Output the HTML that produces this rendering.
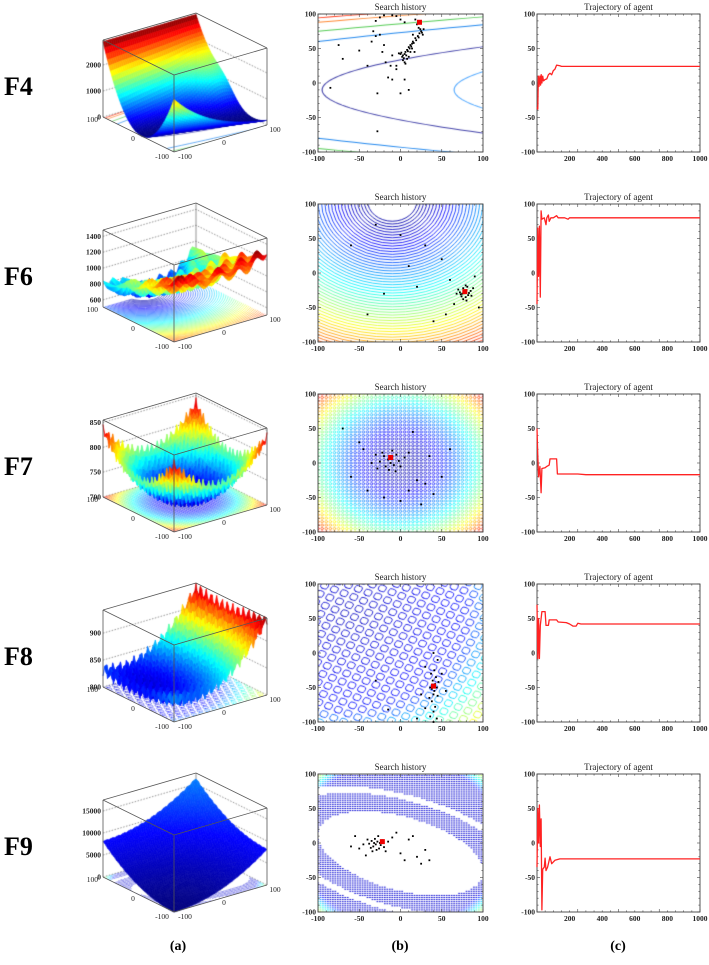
<!DOCTYPE html>
<html><head><meta charset="utf-8">
<style>
html,body{margin:0;padding:0;background:#fff;}
#wrap{position:relative;width:709px;height:965px;overflow:hidden;}
canvas,svg{position:absolute;left:0;top:0;}
text{font-family:"Liberation Serif",serif;}
</style></head>
<body>
<div id="wrap">
<canvas id="cv" width="709" height="965"></canvas>
<svg id="sv" width="709" height="965" xmlns="http://www.w3.org/2000/svg"></svg>
</div>
<script>
// ---------- data ----------
const rowNames = ["F4","F6","F7","F8","F9"];
const contourTicks = [-100,-50,0,50,100];
const trajXTicks = [200,400,600,800,1000];
const trajYTicks = [-100,-50,0,50,100];
const zTicksF4 = [0,1000,2000];
const zTicksF6 = [600,800,1000,1200,1400];
const zTicksF7 = [700,750,800,850];
const zTicksF8 = [800,850,900];
const zTicksF9 = [0,5000,10000,15000];
const zRangeF4 = [0,2960];
const zRangeF6 = [510,1480];
const zRangeF7 = [700,855];
const zRangeF8 = [800,943];
const zRangeF9 = [0,17500];

const trajF4Iter = [0,5,8,12,18,22,26,30,35,40,50,60,70,80,90,100,110,120,140,150,1000];
const trajF4Val  = [-35,-38,10,-5,10,-3,12,0,10,3,5,6,12,14,12,18,20,26,25,24,24];
const trajF6Iter = [0,5,10,15,20,25,30,45,55,60,70,75,85,100,120,130,170,190,200,1000];
const trajF6Val  = [-45,65,-5,68,-35,90,78,80,70,80,84,75,80,80,83,80,80,78,80,80];
const trajF7Iter = [0,5,10,18,25,30,50,60,75,80,120,125,250,300,1000];
const trajF7Val  = [50,10,-20,-5,-43,-8,-7,-5,-3,6,6,-16,-16,-17,-17];
const trajF8Iter = [0,5,10,15,20,30,50,55,70,75,120,130,180,200,220,240,250,270,1000];
const trajF8Val  = [70,-8,50,-8,40,60,60,40,40,48,48,45,44,42,39,39,43,42,42];
const trajF9Iter = [0,5,10,15,20,25,30,35,45,50,55,65,80,90,110,140,1000];
const trajF9Val  = [-35,50,0,55,-5,35,-97,-38,-35,-22,-40,-35,-20,-30,-25,-23,-23];

const scF4X = [20,22,24,25,23,26,21,18,15,14,12,10,8,6,5,3,2,0,4,7,9,11,13,16,19,22,27,1,-2,3,5,8,10,12,14,-20,-25,-30,-35,-33,-22,-18,-10,-5,-50,-75,-85,-28,-15,-10,-12,10,5,0,-5,28,-28,-70,-40,-30,-25,-20,-10,-5,0,5,18,15,17,6];
const scF4Y = [85,80,78,75,72,73,68,65,60,57,55,52,48,45,42,40,38,42,36,40,46,50,53,58,62,66,70,44,43,33,30,35,38,45,50,55,70,68,60,75,45,30,40,25,47,55,-7,-15,8,5,25,-10,5,-15,20,78,-70,35,25,90,95,98,98,97,92,88,92,70,45,28];
const scF6X = [78,80,75,82,76,72,85,79,74,81,70,77,83,73,86,79,68,88,76,80,60,50,30,10,-20,-40,-60,95,90,65,40,55,0,-30,20];
const scF6Y = [-28,-25,-30,-32,-22,-28,-26,-35,-34,-20,-24,-26,-29,-31,-33,-18,-30,-22,-38,-40,-10,20,40,10,-30,-60,40,-50,-5,-45,-70,-60,55,70,-20];
const scF7X = [-15,-10,-20,-12,-8,-18,-25,-5,-22,-14,-2,-28,-10,0,-30,-6,5,-35,10,20,30,-40,40,15,-50,60,-60,0,25,-20,50,-70,35,-45,10];
const scF7Y = [5,8,10,0,-3,-5,2,12,15,-10,3,-8,18,-5,12,-12,8,0,15,-25,-30,-40,-45,45,30,20,-20,-55,-60,-50,-20,50,10,20,-40];
const scF8X = [40,42,38,41,36,44,40,39,43,37,41,45,38,42,40,36,44,40,35,46,30,50,25,45,55,20,-15,40,-30,30];
const scF8Y = [-48,-45,-52,-55,-50,-50,-60,-40,-35,-30,-25,-62,-70,-78,-85,-92,-95,-100,-65,-42,-20,-30,-60,-10,-55,-95,-82,0,-40,-80];
const scF9X = [-30,-28,-33,-26,-35,-31,-24,-38,-29,-22,-34,-27,-40,-20,-32,-36,-25,-45,-15,-18,-50,-10,0,10,20,25,-60,-42,5,15,-5,-55,30,35];
const scF9Y = [-2,2,-5,-8,3,6,-3,-1,-10,4,-12,10,5,-6,0,-7,0,-2,2,-12,-8,8,-15,5,-20,-30,-5,-18,-25,10,15,10,-10,-25];
const bestX = [23,78,-12,40,-22];
const bestY = [88,-27,8,-48,2];

// ---------- helpers ----------
const cv = document.getElementById('cv');
const ctx = cv.getContext('2d');
const sv = document.getElementById('sv');
const NS = "http://www.w3.org/2000/svg";
function mk(tag, attrs, parent){
  const e = document.createElementNS(NS, tag);
  for (const k in attrs) e.setAttribute(k, attrs[k]);
  (parent||sv).appendChild(e);
  return e;
}
function jet(t){
  t = Math.max(0, Math.min(1, t));
  const c = v => Math.round(255*Math.max(0, Math.min(1, v)));
  return `rgb(${c(1.5-Math.abs(4*t-3))},${c(1.5-Math.abs(4*t-2))},${c(1.5-Math.abs(4*t-1))})`;
}
const ROW = 190;
const MID = {x0:318, x1:483, y0:14, y1:152};
const RIGHT = {x0:537, x1:700, y0:14, y1:152};
function midX(v){return MID.x0 + (v+100)/200*(MID.x1-MID.x0);}
function midY(v,oy){return oy + MID.y1 - (v+100)/200*(MID.y1-MID.y0);}
function trX(v){return RIGHT.x0 + v/1000*(RIGHT.x1-RIGHT.x0);}
function trY(v,oy){return oy + RIGHT.y1 - (v+100)/200*(RIGHT.y1-RIGHT.y0);}

// ---------- contour patterns (drawn in data coordinates) ----------
function drawPattern(k){
  ctx.lineCap = 'round';
  if (k===0){
    const lv=[-3200,0,5000,7300,9700,11000];
    const cl=['#55aaff','#4444aa','#2288ee','#55cc55','#ff8833','#ff3311'];
    ctx.lineWidth=1.4;
    for(let i=0;i<lv.length;i++){
      ctx.strokeStyle=cl[i]; ctx.beginPath();
      for(let y=-110;y<=110;y+=2){const x=((y+10)*(y+10)-lv[i])/20-95; y===-110?ctx.moveTo(x,y):ctx.lineTo(x,y);}
      ctx.stroke();
    }
  } else if (k===1){
    ctx.lineWidth=1.15;
    for(let r=30;r<=240;r+=4){
      ctx.strokeStyle=jet(0.04+Math.pow((r-30)/210,1.3)*0.85);
      ctx.beginPath(); ctx.arc(-10,105,r,0,Math.PI*2); ctx.stroke();
    }
  } else if (k===2){
    ctx.lineWidth=0.9;
    for(let x=-100;x<=100;x+=5)for(let y=-100;y<=100;y+=5){
      const d=Math.sqrt(x*x+y*y)/141;
      ctx.strokeStyle=jet(0.04+d*d*0.85);
      ctx.beginPath(); ctx.arc(x,y,1.6,0,Math.PI*2); ctx.stroke();
    }
  } else if (k===3){
    ctx.lineWidth=1.0;
    const a=-25*Math.PI/180, ca=Math.cos(a), sa=Math.sin(a);
    for(let i=-14;i<=14;i++)for(let j=-14;j<=14;j++){
      const u=i*13, v=j*13;
      const x=40+u*ca-v*sa, y=-50+u*sa+v*ca;
      if(x<-110||x>110||y<-110||y>110) continue;
      const d=Math.sqrt((x+60)*(x+60)+(y-60)*(y-60))/260;
      ctx.strokeStyle=jet(0.06+Math.max(0,d-0.55)*1.5+d*0.15);
      ctx.save(); ctx.translate(x,y); ctx.rotate(a);
      ctx.beginPath(); if(ctx.roundRect) ctx.roundRect(-4.5,-4.5,9,9,3); else ctx.rect(-4.5,-4.5,9,9); ctx.stroke();
      ctx.restore();
    }
  } else if (k===4){
    const a=-20*Math.PI/180, ca=Math.cos(a), sa=Math.sin(a);
    for(let x=-100;x<=100;x+=3.0)for(let y=-100;y<=100;y+=3.0){
      const dx=x-0, dy=y+15;
      const u=dx*ca+dy*sa, v=-dx*sa+dy*ca;
      const d=Math.sqrt((u/105)*(u/105)+(v/52)*(v/52));
      if(d<1) continue;
      if(d>1.45&&d<1.6) continue;
      const rr=Math.sqrt(x*x+y*y)/141;
      ctx.fillStyle=jet(rr>0.85?0.08+(rr-0.85)*3.5:0.08);
      ctx.fillRect(x-1.0,y-0.7,2.0,1.4);
    }
  }
}

// ---------- 3D surfaces ----------
const surfFns = [
  (x,y)=>{const yc=-9-51*(x+100)/200; return 2900*Math.pow((y-yc)/(100-yc),2)+600*Math.exp(-((x-75)*(x-75)+(y-20)*(y-20))/1500);},
  (x,y)=>{const r=Math.sqrt((x+10)*(x+10)+(y-105)*(y-105)); return 560+3.0*r+110*Math.sin(r/6)*Math.cos(x/9);},
  (x,y)=>705+0.0065*(x*x+y*y)+12*Math.cos(x*0.6)*Math.cos(y*0.6),
  (x,y)=>818+0.0042*(x+60)*(x+60)+0.0012*(y-20)*(y-20)+14*Math.sin(x*0.42)*Math.sin(y*0.42),
  (x,y)=>0.2*((x+100)*(x+100)+(y+100)*(y+100))*(1+0.1*Math.abs(Math.sin(x*0.5)*Math.sin(y*0.5)))
];
const zRanges=[zRangeF4,zRangeF6,zRangeF7,zRangeF8,zRangeF9];
const zTicks=[zTicksF4,zTicksF6,zTicksF7,zTicksF8,zTicksF9];
const colorScale=[1,1,1,1,0.25];
const H=77;
function boxPts(oy){
  return {F:[174,152+oy], L:[103,117+oy], R:[267,125+oy]};
}
function proj(b,x,y,zn){
  const t=(x+100)/200, s=(y+100)/200;
  return [b.F[0]+t*(b.R[0]-b.F[0])+s*(b.L[0]-b.F[0]), b.F[1]+t*(b.R[1]-b.F[1])+s*(b.L[1]-b.F[1])-zn*H];
}
function drawSurface(k,oy){
  const b=boxPts(oy), zr=zRanges[k], f=surfFns[k];
  ctx.save(); ctx.setLineDash([1.5,1.5]); ctx.strokeStyle='#666'; ctx.lineWidth=0.7;
  zTicks[k].forEach(v=>{const zn=(v-zr[0])/(zr[1]-zr[0]);
    const p1=proj(b,-100,100,zn),p2=proj(b,100,100,zn),p3=proj(b,100,-100,zn);
    ctx.beginPath();ctx.moveTo(p1[0],p1[1]);ctx.lineTo(p2[0],p2[1]);ctx.lineTo(p3[0],p3[1]);ctx.stroke();});
  ctx.restore();
  ctx.save(); ctx.strokeStyle='#777'; ctx.lineWidth=0.8;
  let p=proj(b,100,100,0),q=proj(b,100,100,1);
  ctx.beginPath();ctx.moveTo(p[0],p[1]);ctx.lineTo(q[0],q[1]);ctx.stroke(); ctx.restore();
  ctx.save();
  const a=(b.R[0]-b.F[0])/200, bb=(b.R[1]-b.F[1])/200, c=(b.L[0]-b.F[0])/200, d=(b.L[1]-b.F[1])/200;
  ctx.setTransform(a,bb,c,d,b.F[0]+100*a+100*c,b.F[1]+100*bb+100*d);
  ctx.beginPath(); ctx.rect(-100,-100,200,200); ctx.clip();
  drawPattern(k);
  ctx.restore();
  const N=48, Z=[];
  for(let i=0;i<=N;i++){Z.push([]);for(let j=0;j<=N;j++){const x=-100+200*i/N,y=-100+200*j/N;Z[i].push(Math.max(zr[0],Math.min(zr[1],f(x,y))));}}
  let mn=Infinity,mx=-Infinity; Z.forEach(r=>r.forEach(v=>{mn=Math.min(mn,v);mx=Math.max(mx,v);}));
  const quads=[];
  for(let i=0;i<N;i++)for(let j=0;j<N;j++)quads.push([i,j]);
  quads.sort((u,v)=>(v[0]+v[1])-(u[0]+u[1]));
  ctx.lineWidth=0.6;
  quads.forEach(([i,j])=>{
    const pts=[[i,j],[i+1,j],[i+1,j+1],[i,j+1]].map(([ii,jj])=>proj(b,-100+200*ii/N,-100+200*jj/N,(Z[ii][jj]-zr[0])/(zr[1]-zr[0])));
    const avg=(Z[i][j]+Z[i+1][j]+Z[i+1][j+1]+Z[i][j+1])/4;
    const col=jet((avg-mn)/(mx-mn)*colorScale[k]);
    ctx.fillStyle=col; ctx.strokeStyle=col;
    ctx.beginPath(); ctx.moveTo(pts[0][0],pts[0][1]); for(let m=1;m<4;m++)ctx.lineTo(pts[m][0],pts[m][1]); ctx.closePath(); ctx.fill(); ctx.stroke();
  });
  const g=mk('g',{});
  
  
  const T=(x,y)=>proj(b,x,y,1), B0=(x,y)=>proj(b,x,y,0);
  const lines=[[T(-100,100),T(-100,-100)],[T(-100,-100),T(100,-100)],[T(100,-100),T(100,100)],[T(100,100),T(-100,100)],
    [B0(-100,100),T(-100,100)],[B0(-100,-100),T(-100,-100)],[B0(100,-100),T(100,-100)],
    [B0(-100,100),B0(-100,-100)],[B0(-100,-100),B0(100,-100)]];
  lines.forEach(([u,v])=>mk('line',{x1:u[0],y1:u[1],x2:v[0],y2:v[1],stroke:'#555','stroke-width':0.8},g));
  zTicks[k].forEach(v=>{const pp=proj(b,-100,100,(v-zr[0])/(zr[1]-zr[0]));
    const t=mk('text',{x:pp[0]-2,y:pp[1]+2.5,'font-size':7.5,'font-weight':'bold','text-anchor':'end',fill:'#222'},g);
      t.textContent=v;});
  const fl=[["100",98,122,'end'],["0",133,141,'middle'],["-100",162,159,'middle'],["-100",185,159,'middle'],["0",224,145,'middle'],["100",275,132,'middle']];
  fl.forEach(([s,x,y,an])=>{const t=mk('text',{x:x,y:y+oy,'font-size':7.5,'text-anchor':an,fill:'#222'},g);
      t.textContent=s;});
}

// ---------- 2D frames ----------
function frame(P,oy,title,xt,xmap,ymap,xMinorStep,xMin,xMax,name){
  const g=mk('g',{});
  
  
  const t=mk('text',{x:(P.x0+P.x1)/2,y:oy+P.y0-4,'font-size':9,'text-anchor':'middle',fill:'#222'},g);
    t.textContent=title;
  mk('rect',{x:P.x0,y:oy+P.y0,width:P.x1-P.x0,height:P.y1-P.y0,fill:'none',stroke:'#444','stroke-width':0.9},g);
  for(let v=xMin;v<=xMax;v+=xMinorStep){const x=xmap(v),L=(v%(xMinorStep*5)===0)?3:1.6;
    mk('line',{x1:x,y1:oy+P.y1,x2:x,y2:oy+P.y1-L,stroke:'#444','stroke-width':0.6},g);
    mk('line',{x1:x,y1:oy+P.y0,x2:x,y2:oy+P.y0+L,stroke:'#444','stroke-width':0.6},g);}
  for(let v=-100;v<=100;v+=10){const y=ymap(v,oy),L=(v%50===0)?3:1.6;
    mk('line',{x1:P.x0,y1:y,x2:P.x0+L,y2:y,stroke:'#444','stroke-width':0.6},g);
    mk('line',{x1:P.x1,y1:y,x2:P.x1-L,y2:y,stroke:'#444','stroke-width':0.6},g);}
  xt.forEach(v=>{const e=mk('text',{x:xmap(v),y:oy+P.y1+9,'font-size':7.5,'font-weight':'bold','text-anchor':'middle',fill:'#222'},g);
      e.textContent=v;});
  contourTicks.forEach(v=>{const e=mk('text',{x:P.x0-2,y:ymap(v,oy)+2.5,'font-size':7.5,'font-weight':'bold','text-anchor':'end',fill:'#222'},g);
      e.textContent=v;});
}

const scX=[scF4X,scF6X,scF7X,scF8X,scF9X], scY=[scF4Y,scF6Y,scF7Y,scF8Y,scF9Y];
const trI=[trajF4Iter,trajF6Iter,trajF7Iter,trajF8Iter,trajF9Iter], trV=[trajF4Val,trajF6Val,trajF7Val,trajF8Val,trajF9Val];

for(let k=0;k<5;k++){
  const oy=ROW*k;
  const lab=mk('text',{x:4,y:95+oy,'font-size':26,'font-weight':'bold',fill:'#000'});
    lab.textContent=rowNames[k];
  drawSurface(k,oy);
  ctx.save();
  ctx.beginPath(); ctx.rect(MID.x0,oy+MID.y0,MID.x1-MID.x0,MID.y1-MID.y0); ctx.clip();
  const W=MID.x1-MID.x0, Hh=MID.y1-MID.y0;
  ctx.setTransform(W/200,0,0,-Hh/200,MID.x0+W/2,oy+MID.y1-Hh/2);
  drawPattern(k);
  ctx.restore();
  frame(MID,oy,"Search history",contourTicks,midX,midY,10,-100,100,rowNames[k].toLowerCase()+'-search-history');
  const sg=mk('g',{});
  
  
  scX[k].forEach((v,i)=>{const r=mk('rect',{x:midX(v)-0.9,y:midY(scY[k][i],oy)-0.9,width:1.8,height:1.8,fill:'#000'},sg);
     });
  const bm=mk('rect',{x:midX(bestX[k])-2.5,y:midY(bestY[k],oy)-2.5,width:5,height:5,fill:'#e00'});
   
  frame(RIGHT,oy,"Trajectory of agent",trajXTicks,trX,trY,50,0,1000,rowNames[k].toLowerCase()+'-trajectory');
  const pts=trI[k].map((v,i)=>trX(v).toFixed(1)+','+trY(trV[k][i],oy).toFixed(1)).join(' ');
  const pl=mk('polyline',{points:pts,fill:'none',stroke:'#f22','stroke-width':1.3,'stroke-linejoin':'round'});
   
}
[["(a)",178],["(b)",400],["(c)",618]].forEach(([s,x])=>{
  const t=mk('text',{x:x,y:950,'font-size':14,'font-weight':'bold','text-anchor':'middle',fill:'#000'});
    t.textContent=s;});
</script>
</body></html>
